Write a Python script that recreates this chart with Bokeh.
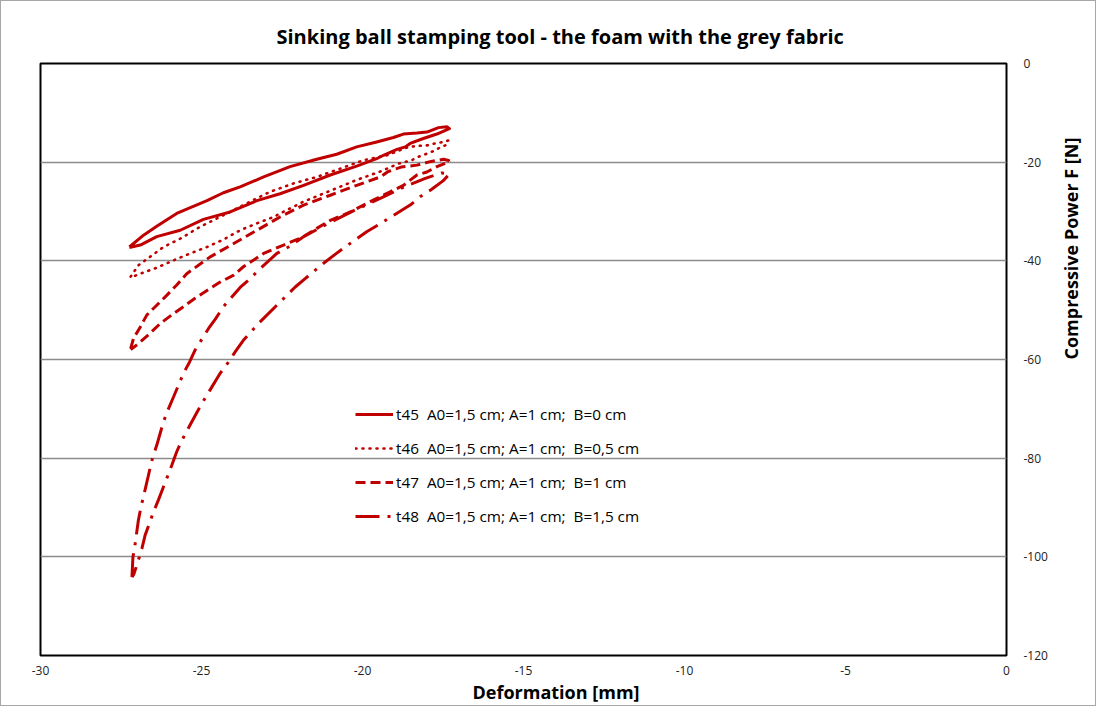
import math
from bokeh.plotting import figure
from bokeh.models import (Range1d, SingleIntervalTicker, Legend, LegendItem,
                          PrintfTickFormatter, Title)
from bokeh.embed import file_html
from bokeh.resources import INLINE

# ---- data ----
t45_x = [-27.24, -26.80, -26.39, -25.77, -24.83, -24.32, -23.80, -23.07, -22.25, -21.42, -20.80, -20.18,
         -19.56, -19.04, -18.73, -18.31, -18.00, -17.64, -17.38, -17.30, -17.69, -18.11, -18.52, -18.67,
         -18.93, -19.35, -19.56, -20.18, -21.00, -21.83, -22.56, -23.28, -24.11, -24.94, -25.66, -26.39,
         -26.90, -27.24]
t45_y = [-37.2, -34.8, -33.0, -30.4, -27.8, -26.2, -25.0, -23.0, -20.9, -19.4, -18.4, -16.9,
         -15.9, -15.0, -14.3, -14.1, -13.9, -13.0, -12.8, -13.2, -14.3, -15.2, -16.2, -16.9,
         -17.4, -18.6, -19.3, -20.8, -22.6, -24.7, -26.4, -27.8, -30.1, -31.6, -33.8, -35.1,
         -36.8, -37.3]

t46_x = [-27.20, -26.96, -26.60, -26.18, -25.66, -25.04, -24.52, -24.00, -23.49, -22.87, -22.14, -21.42,
         -20.69, -19.97, -19.24, -18.57, -18.26, -18.00, -17.74, -17.48, -17.33, -17.43, -17.64, -17.85,
         -18.05, -18.26, -18.47, -18.88, -19.45, -20.18, -21.00, -21.83, -22.56, -22.76, -23.28, -23.80,
         -24.32, -24.83, -25.35, -25.87, -26.39, -26.90, -27.20]
t46_y = [-43.2, -40.9, -39.2, -37.2, -35.5, -33.1, -31.4, -29.7, -28.0, -26.0, -24.3, -23.0,
         -21.3, -19.6, -18.6, -16.9, -16.7, -16.6, -16.2, -15.9, -15.6, -16.6, -17.2, -17.9,
         -18.4, -18.9, -19.6, -20.3, -21.9, -23.6, -25.8, -28.0, -30.4, -31.1, -32.4, -33.8,
         -35.7, -37.2, -38.5, -39.9, -41.4, -42.6, -43.4]

t47_x = [-27.20, -27.11, -26.90, -26.70, -26.39, -26.08, -25.77, -25.46, -24.73, -24.00, -23.28, -22.56,
         -21.83, -21.00, -20.18, -19.45, -19.20, -18.80, -18.31, -17.90, -17.48, -17.30, -17.38, -17.69,
         -18.00, -18.31, -18.73, -19.14, -19.76, -20.38, -21.00, -21.52, -21.83, -22.45, -23.07, -23.70,
         -24.00, -24.42, -24.83, -25.20, -25.56, -25.87, -26.28, -26.60, -26.96, -27.20]
t47_y = [-57.8, -55.7, -53.4, -51.0, -49.0, -47.0, -44.9, -42.6, -39.2, -36.5, -33.8, -31.1,
         -28.7, -26.7, -24.7, -23.0, -21.9, -21.0, -20.6, -19.9, -19.4, -19.7, -20.1, -20.9,
         -22.0, -22.6, -24.7, -26.0, -28.0, -30.1, -31.8, -33.8, -35.1, -36.8, -38.5, -41.2,
         -42.9, -44.3, -46.0, -47.6, -49.3, -50.7, -52.7, -54.7, -56.8, -58.0]

t48_x = [-27.16, -27.13, -27.06, -26.96, -26.88, -26.78, -26.61, -26.51, -26.39, -26.18, -26.02, -25.87,
         -25.56, -25.37, -25.20, -24.78, -24.55, -24.32, -23.80, -23.50, -23.23, -22.66, -22.30, -21.83,
         -21.00, -20.20, -19.40, -18.70, -18.05, -17.55, -17.30, -17.50, -17.85, -18.21, -18.52, -19.19,
         -19.53, -19.87, -20.54, -20.85, -21.21, -21.78, -22.09, -22.60, -23.20, -23.70, -23.95, -24.18,
         -24.42, -24.83, -25.04, -25.25, -25.61, -25.77, -25.92, -26.18, -26.34, -26.49, -26.75, -26.85,
         -27.00, -27.10, -27.16]
t48_y = [-104.1, -100.1, -97.3, -92.6, -89.9, -87.2, -82.4, -79.7, -77.4, -72.6, -69.9, -67.6,
         -62.8, -60.5, -58.1, -53.7, -51.6, -49.3, -45.4, -43.7, -41.9, -38.5, -37.2, -35.1,
         -32.2, -29.6, -27.2, -25.0, -23.3, -22.2, -22.4, -23.8, -25.5, -27.0, -28.7, -31.4,
         -32.8, -34.1, -37.2, -38.7, -40.5, -43.6, -45.3, -48.6, -52.5, -56.1, -58.4, -60.7,
         -62.8, -67.2, -69.5, -72.0, -76.4, -78.7, -81.4, -85.8, -88.5, -90.9, -95.6, -98.3,
         -101.5, -103.5, -104.1]

labels = ["t45  A0=1,5 cm; A=1 cm;  B=0 cm",
          "t46  A0=1,5 cm; A=1 cm;  B=0,5 cm",
          "t47  A0=1,5 cm; A=1 cm;  B=1 cm",
          "t48  A0=1,5 cm; A=1 cm;  B=1,5 cm"]

title_text = "Sinking ball stamping tool - the foam  with the grey fabric"
x_label = "Deformation [mm]"
y_label = "Compressive Power  F [N]"

RED = "#C00000"
FONT = "Open Sans"

p = figure(width=1096, height=706, output_backend="svg", toolbar_location=None,
           x_range=Range1d(-30, 0), y_range=Range1d(-120, 0),
           y_axis_location="right",
           min_border_left=39, min_border_right=91, min_border_top=62, min_border_bottom=52)

p.title.text = title_text
p.title.align = "left"
p.title.offset = 236
p.title.standoff = 24
p.title.vertical_align = "top"
p.title.text_font = FONT
p.title.text_font_size = "20px"
p.title.text_font_style = "bold"
p.title.text_color = "#000000"

p.outline_line_color = "#000000"
p.outline_line_width = 2

p.xgrid.grid_line_color = None
p.ygrid.grid_line_color = "#8c8c8c"
p.ygrid.grid_line_width = 1.3


def plain_axis(ax):
    ax.axis_line_color = None
    ax.major_tick_line_color = None
    ax.minor_tick_line_color = None
    ax.major_tick_out = 0
    ax.major_tick_in = 0
    ax.minor_tick_out = 0
    ax.minor_tick_in = 0
    ax.major_label_text_font = FONT
    ax.major_label_text_font_size = "12px"
    ax.major_label_text_color = "#222222"
    ax.axis_label_text_font = FONT
    ax.axis_label_text_font_size = "18px"
    ax.axis_label_text_font_style = "bold"
    ax.axis_label_text_color = "#000000"


p.xaxis.ticker = SingleIntervalTicker(interval=5)
p.yaxis.ticker = SingleIntervalTicker(interval=20)
for ax in (p.xaxis, p.yaxis):
    ax.formatter = PrintfTickFormatter(format="%d")
    plain_axis(ax)
p.xaxis.major_label_standoff = 10
p.yaxis.major_label_standoff = 17

# x axis title, placed below the tick labels (shifted right like the reference)
p.add_layout(Title(text=x_label, align="left", offset=432, standoff=0,
                   text_font=FONT, text_font_size="18px", text_font_style="bold",
                   text_color="#000000"), "below")

# y axis title, reading upwards
p.yaxis.axis_label = y_label
p.yaxis.axis_label_standoff = 20
p.yaxis.axis_label_orientation = math.pi / 2

r45 = p.line(t45_x, t45_y, line_color=RED, line_width=3, line_join="round")
r46 = p.line(t46_x, t46_y, line_color=RED, line_width=2.6, line_dash="1 6", line_cap="round")
r47 = p.line(t47_x, t47_y, line_color=RED, line_width=3, line_dash="10 5")
r48 = p.line(t48_x, t48_y, line_color=RED, line_width=3, line_dash="24 8 3 8")

legend = Legend(items=[LegendItem(label=labels[0], renderers=[r45]),
                       LegendItem(label=labels[1], renderers=[r46]),
                       LegendItem(label=labels[2], renderers=[r47]),
                       LegendItem(label=labels[3], renderers=[r48])],
                location=(315, 128), padding=0, margin=0, spacing=12,
                glyph_width=38, glyph_height=22, label_height=22, label_standoff=3,
                background_fill_alpha=0, border_line_alpha=0,
                label_text_font=FONT, label_text_font_size="15.3px", label_text_color="#000000")
p.add_layout(legend, "center")

p.styles = {"border": "1px solid #a6a6a6"}

open("out.html", "w").write(file_html(p, INLINE))
